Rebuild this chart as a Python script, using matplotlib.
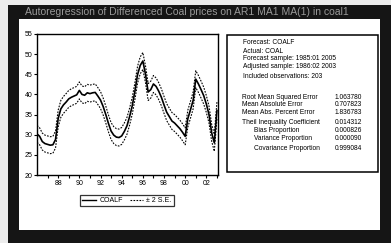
import matplotlib
matplotlib.use("Agg")
import matplotlib.pyplot as plt
from matplotlib.patches import Rectangle
from matplotlib.lines import Line2D

plt.rcParams['font.family'] = ['Liberation Sans', 'DejaVu Sans']

# ---- data (quarterly points) ----
years = [1986.0 + 0.25 * i for i in range(69)]
coalf = [30.2, 29.6, 28.3, 27.8, 27.6, 27.4, 27.5, 28.8,
         34.0, 36.4, 37.4, 38.1, 38.9, 39.3, 39.6, 39.9,
         41.0, 40.0, 39.8, 40.4, 40.2, 40.4, 40.5, 39.6,
         38.6, 37.0, 35.0, 32.8, 30.9, 29.9, 29.4, 29.3,
         29.7, 30.8, 32.2, 34.5, 37.2, 40.8, 44.9, 47.2,
         48.3, 45.0, 40.6, 41.2, 42.6, 42.0, 40.8, 39.3,
         37.4, 35.6, 34.5, 33.4, 32.9, 32.2, 31.5, 30.6,
         29.6, 34.0, 36.2, 38.5, 43.8, 42.6, 41.2, 39.7,
         37.6, 35.0, 30.5, 28.0, 36.0]
upper = [32.3, 31.7, 30.4, 29.9, 29.7, 29.5, 29.6, 30.9,
         36.1, 38.5, 39.5, 40.2, 41.0, 41.4, 41.7, 42.0,
         43.1, 42.1, 41.9, 42.5, 42.3, 42.5, 42.6, 41.7,
         40.7, 39.1, 37.1, 34.9, 33.0, 32.0, 31.5, 31.4,
         31.8, 32.9, 34.3, 36.6, 39.3, 42.9, 47.0, 49.3,
         50.4, 47.1, 42.7, 43.3, 44.7, 44.1, 42.9, 41.4,
         39.5, 37.7, 36.6, 35.5, 35.0, 34.3, 33.6, 32.7,
         31.7, 36.1, 38.3, 40.6, 45.9, 44.7, 43.3, 41.8,
         39.7, 37.1, 32.6, 30.1, 38.1]
lower = [28.1, 27.5, 26.2, 25.7, 25.5, 25.3, 25.4, 26.7,
         31.9, 34.3, 35.3, 36.0, 36.8, 37.2, 37.5, 37.8,
         38.9, 37.9, 37.7, 38.3, 38.1, 38.3, 38.4, 37.5,
         36.5, 34.9, 32.9, 30.7, 28.8, 27.8, 27.3, 27.2,
         27.6, 28.7, 30.1, 32.4, 35.1, 38.7, 42.8, 45.1,
         46.2, 42.9, 38.5, 39.1, 40.5, 39.9, 38.7, 37.2,
         35.3, 33.5, 32.4, 31.3, 30.8, 30.1, 29.4, 28.5,
         27.5, 31.9, 34.1, 36.4, 41.7, 40.5, 39.1, 37.6,
         35.5, 32.9, 28.4, 25.9, 33.9]
ytick_vals = [20, 25, 30, 35, 40, 45, 50, 55]
xtick_years = [1988, 1990, 1992, 1994, 1996, 1998, 2000, 2002]
xtick_labels = ['88', '90', '92', '94', '96', '98', '00', '02']

title_text = "Autoregression of Differenced Coal prices on AR1 MA1 MA(1) in coal1"
info_lines = ["Forecast: COALF", "Actual: COAL", "Forecast sample: 1985:01 2005",
              "Adjusted sample: 1986:02 2003", "Included observations: 203"]
stat_labels = ["Root Mean Squared Error", "Mean Absolute Error",
               "Mean Abs. Percent Error", "Theil Inequality Coefficient",
               "Bias Proportion", "Variance Proportion", "Covariance Proportion"]
stat_values = ["1.063780", "0.707823", "1.836783", "0.014312",
               "0.000826", "0.000090", "0.999084"]

W, H = 391, 243
fig = plt.figure(figsize=(W / 100, H / 100), dpi=100, facecolor='#ececec')

def fx(x):
    return x / W

def fy(y):
    return 1 - y / H

# black frame and white content
fig.patches.append(Rectangle((fx(8), 0), 1 - fx(8), fy(5), transform=fig.transFigure,
                             facecolor='#151515', edgecolor='none', zorder=-20))
fig.patches.append(Rectangle((fx(19), fy(230)), fx(380) - fx(19), fy(19) - fy(230),
                             transform=fig.transFigure, facecolor='white',
                             edgecolor='none', zorder=-10))
fig.text(fx(25), fy(12), title_text, color='#9a9a9a', fontsize=7.5,
         ha='left', va='center')

# main chart
ax = fig.add_axes([fx(37), fy(175), fx(218) - fx(37), fy(34) - fy(175)])
ax.set_zorder(5)
ax.plot(years, coalf, color='black', lw=1.2)
ax.plot(years, upper, color='black', lw=0.8, ls=(0, (1.5, 1.2)))
ax.plot(years, lower, color='black', lw=0.8, ls=(0, (1.5, 1.2)))
ax.set_xlim(1986.0, 2003.1)
ax.set_ylim(20, 55)
ax.set_yticks(ytick_vals)
ax.set_yticklabels([str(v) for v in ytick_vals])
ax.set_xticks(xtick_years)
ax.set_xticklabels(xtick_labels)
ax.set_xticks(list(range(1987, 2004)), minor=True)
ax.tick_params(axis='both', labelsize=5, length=2, width=0.8, pad=1.5, direction='out')
ax.tick_params(axis='x', which='minor', length=2, width=0.8)
for s in ax.spines.values():
    s.set_linewidth(1.0)

# legend
handles = [Line2D([], [], color='black', lw=1.0),
           Line2D([], [], color='black', lw=0.8, ls=(0, (1.5, 1.2)))]
leg = fig.legend(handles, ['COALF', '\u00b1 2 S.E.'], loc='center',
                 bbox_to_anchor=(fx(127), fy(200.5)), ncol=2, fontsize=5,
                 frameon=True, fancybox=False, edgecolor='black',
                 handlelength=2.0, handletextpad=0.4, columnspacing=1.0,
                 borderpad=0.3)
leg.get_frame().set_linewidth(0.9)

# stats box
fig.patches.append(Rectangle((fx(227), fy(172)), fx(378) - fx(227), fy(35) - fy(172),
                             transform=fig.transFigure, facecolor='none',
                             edgecolor='black', lw=1.1, zorder=2))
info_y = [43, 51, 59, 67, 76]
for t, y in zip(info_lines, info_y):
    fig.text(fx(243), fy(y), t, fontsize=4.8, ha='left', va='center')
stat_y = [97, 105, 113, 122, 131, 139, 148]
stat_x = [242, 242, 242, 242, 254, 254, 254]
for lab, val, y, x in zip(stat_labels, stat_values, stat_y, stat_x):
    fig.text(fx(x), fy(y), lab, fontsize=4.8, ha='left', va='center')
    fig.text(fx(335), fy(y), val, fontsize=4.8, ha='left', va='center')

fig.savefig('out.png', dpi=100, facecolor=fig.get_facecolor())
